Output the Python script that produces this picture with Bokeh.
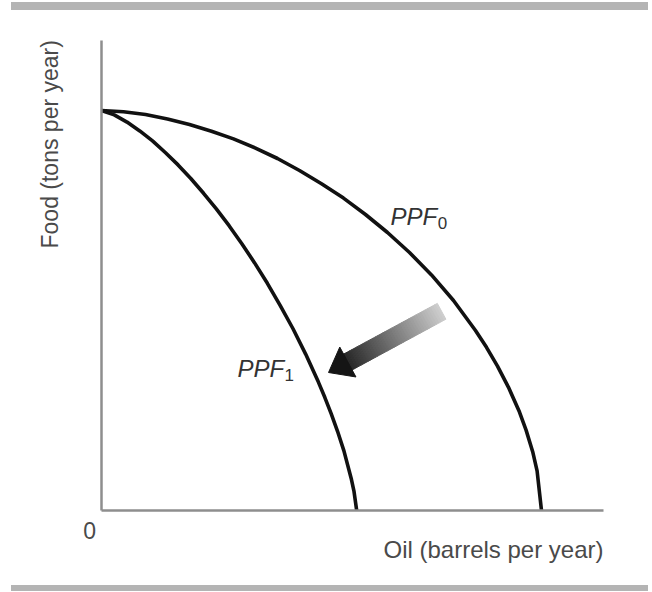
import numpy as np
from bokeh.plotting import figure
from bokeh.models import Range1d, Label, FixedTicker, Div
from bokeh.layouts import column
from bokeh.embed import file_html
from bokeh.resources import INLINE

# ---- data (oil and food in arbitrary units) ----
ppf0_oil = [0, 0.5, 1.0, 1.5, 2.0, 2.5, 3.0, 3.5, 4.0, 4.5, 5.0, 5.5, 6.0, 6.5, 7.0, 7.5,
            8.0, 8.5, 8.75, 9.0, 9.25, 9.5, 9.65, 9.8, 9.9, 10.0]
ppf0_food = [10, 9.97, 9.90, 9.79, 9.65, 9.48, 9.29, 9.06, 8.80, 8.50, 8.17, 7.81, 7.40, 6.95, 6.45, 5.89,
             5.25, 4.50, 4.08, 3.61, 3.08, 2.46, 2.01, 1.47, 0.99, 0]
ppf1_oil = [0, 0.29, 0.58, 0.87, 1.16, 1.45, 1.74, 2.03, 2.32, 2.61, 2.90, 3.19, 3.48, 3.77, 4.06, 4.35,
            4.64, 4.93, 5.075, 5.22, 5.365, 5.51, 5.68, 5.74, 5.80]
ppf1_food = [10, 9.89, 9.71, 9.49, 9.24, 8.95, 8.64, 8.30, 7.93, 7.54, 7.12, 6.67, 6.19, 5.68, 5.13, 4.55,
             3.91, 3.21, 2.83, 2.42, 1.98, 1.49, 0.78, 0.47, 0]
arrow_oil = [7.73, 5.16]     # tail -> tip
arrow_food = [4.98, 3.45]
oil_axis_max = 11.41
food_axis_max = 11.75
curve_labels = ["PPF", "PPF"]
curve_subs = ["0", "1"]
x_title = "Oil (barrels per year)"
y_title = "Food (tons per year)"

# ---- layout ----
W, H = 648, 575
X_MIN, X_MAX = -2.295, 12.432
Y_MIN, Y_MAX = -1.875, 12.5

p = figure(width=W, height=H, x_range=Range1d(X_MIN, X_MAX), y_range=Range1d(Y_MIN, Y_MAX),
           output_backend="svg", toolbar_location=None,
           min_border_left=0, min_border_right=0, min_border_top=0, min_border_bottom=0)
p.outline_line_color = None
p.grid.visible = False
p.background_fill_color = "white"
p.border_fill_color = "white"
for ax in (p.xaxis, p.yaxis):
    ax.fixed_location = 0
    ax.ticker = FixedTicker(ticks=[])
    ax.major_tick_line_color = None
    ax.minor_tick_line_color = None
    ax.major_label_text_font_size = "0px"
    ax.major_label_standoff = 0
    ax.axis_line_color = "#8e8e8e"
    ax.axis_line_width = 2.5
p.xaxis.bounds = (0, oil_axis_max)
p.yaxis.bounds = (0, food_axis_max)

p.line(ppf0_oil, ppf0_food, line_color="#111111", line_width=3.6, line_join="round")
p.line(ppf1_oil, ppf1_food, line_color="#111111", line_width=3.6, line_join="round")

# ---- gradient arrow built in pixel space ----
sx = W / (X_MAX - X_MIN)
sy = H / (Y_MAX - Y_MIN)
tail = np.array([arrow_oil[0] * sx, arrow_food[0] * sy])
tip = np.array([arrow_oil[1] * sx, arrow_food[1] * sy])
d = tip - tail
L = np.hypot(*d)
u = d / L
nrm = np.array([-u[1], u[0]])
head_len, head_w, shaft_w = 22.0, 34.0, 18.0
shaft_len = L - head_len + 1
N = 40
xs, ys, cols = [], [], []
for i in range(N):
    a = tail + u * shaft_len * i / N
    b = tail + u * shaft_len * (i + 1) / N
    pts = [a + nrm * shaft_w / 2, b + nrm * shaft_w / 2, b - nrm * shaft_w / 2, a - nrm * shaft_w / 2]
    xs.append([q[0] / sx for q in pts])
    ys.append([q[1] / sy for q in pts])
    t = i / (N - 1)
    g = int(round(205 * (1 - t) + 40 * t))
    cols.append("#%02x%02x%02x" % (g, g, g))
p.patches(xs, ys, fill_color=cols, line_color=cols, line_width=1)
base = tip - u * head_len
hp = [tip, base + nrm * head_w / 2, base - nrm * head_w / 2]
p.patch([q[0] / sx for q in hp], [q[1] / sy for q in hp], fill_color="#151515", line_color="#151515", line_width=1)

# ---- texts ----
FONT = "Liberation Sans"
p.add_layout(Label(x=-1.16, y=6.55, text=y_title, angle=np.pi / 2, text_align="left", text_baseline="middle",
                   text_font=FONT, text_font_size="23px", text_color="#4a4a4a"))
p.add_layout(Label(x=oil_axis_max, y=-0.975, text=x_title, text_align="right", text_baseline="middle",
                   text_font=FONT, text_font_size="24px", text_color="#4a4a4a"))
p.add_layout(Label(x=-0.27, y=-0.5, text="0", text_align="center", text_baseline="middle",
                   text_font=FONT, text_font_size="23px", text_color="#4a4a4a"))

lab_pos = [(6.57, 7.35, 7.64, 7.2), (3.09, 3.55, 4.16, 3.4)]
for (lx, ly, sx_, sy_), txt, sub in zip(lab_pos, curve_labels, curve_subs):
    p.add_layout(Label(x=lx, y=ly, text=txt, text_align="left", text_baseline="alphabetic",
                       text_font=FONT, text_font_style="italic", text_font_size="24px", text_color="#333333"))
    p.add_layout(Label(x=sx_, y=sy_, text=sub, text_align="left", text_baseline="alphabetic",
                       text_font=FONT, text_font_size="17px", text_color="#333333"))

top = Div(text="", width=W - 11, height=8, styles={"background-color": "#b4b4b4"}, margin=(2, 0, 0, 11))
bottom = Div(text="", width=W - 11, height=6, styles={"background-color": "#b4b4b4"}, margin=(0, 0, 0, 11))
layout = column(top, p, bottom, spacing=0)

open("out.html", "w").write(file_html(layout, INLINE))
